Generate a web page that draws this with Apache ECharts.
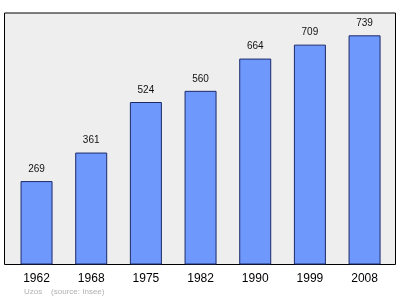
<!DOCTYPE html>
<html><head><meta charset="utf-8">
<script src="https://cdn.jsdelivr.net/npm/echarts@6/dist/echarts.min.js"></script>
<style>html,body{margin:0;padding:0;background:#fff}#c{width:400px;height:299px}</style>
</head><body><div id="c"></div>
<script>
var years = ['1962','1968','1975','1982','1990','1999','2008'];
var population = [269,361,524,560,664,709,739];
var footer = 'Uzos    (source: Insee)';

var chart = echarts.init(document.getElementById('c'), null, {renderer:'canvas'});
chart.setOption({
  animation:false,
  backgroundColor:'#ffffff',
  grid:{left:9.2, width:382.7, top:13, bottom:34.5, containLabel:false},
  graphic:[
    {type:'rect', z:-10, silent:true, shape:{x:4.5,y:13,width:391,height:251.5},
     style:{fill:'#eeeeee', stroke:'#000000', lineWidth:1}},
    {type:'text', left:24, top:288, silent:true,
     style:{text:footer, fontSize:8, fill:'#b0b0b0', fontFamily:'Liberation Sans, Arial, sans-serif'}}
  ],
  xAxis:{type:'category', data:years,
    axisLine:{show:false}, axisTick:{show:false},
    axisLabel:{fontSize:12, color:'#000', margin:8, fontFamily:'Liberation Sans, Arial, sans-serif'}},
  yAxis:{type:'value', min:0, max:811, show:false, splitLine:{show:false}},
  series:[{type:'bar', data:population, barWidth:32,
    itemStyle:{color:'#6f98fc', borderColor:'#1c2a6b', borderWidth:1},
    label:{show:true, position:'top', distance:7, fontSize:10, color:'#111',
      fontFamily:'Liberation Sans, Arial, sans-serif'}}]
});
</script></body></html>
